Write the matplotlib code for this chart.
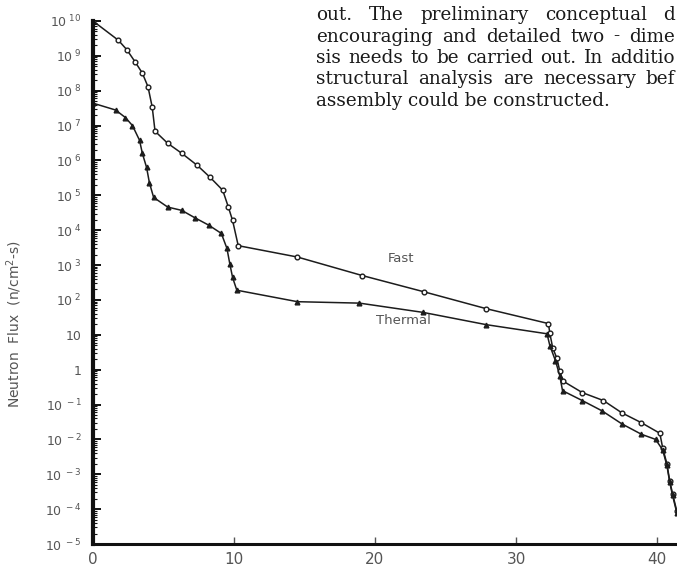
"""Fast and thermal neutron flux profiles (scanned report figure)"""
import matplotlib
matplotlib.use("Agg")
import matplotlib.pyplot as plt
from matplotlib.ticker import LogLocator, FixedLocator, NullFormatter

# distance (cm) and flux (n/cm^2-s)
fast_x = [0, 1.8, 2.4, 3.0, 3.5, 3.9, 4.2, 4.4, 5.3, 6.3, 7.4, 8.3, 9.2, 9.6, 9.9, 10.3,
          14.5, 19.1, 23.5, 27.9, 32.3, 32.4, 32.6, 32.9, 33.1, 33.3,
          34.7, 36.2, 37.5, 38.9, 40.2, 40.4, 40.7, 40.9, 41.1, 41.4]
fast_flux = [1.0e10, 2.8e9, 1.5e9, 6.6e8, 3.2e8, 1.3e8, 3.4e7, 6.9e6, 3.1e6, 1.6e6, 7.2e5,
             3.3e5, 1.4e5, 4.6e4, 1.9e4, 3.6e3,
             1.7e3, 5.0e2, 1.7e2, 56, 21, 11, 4.3, 2.1, 0.93, 0.48,
             0.22, 0.13, 0.058, 0.030, 0.015, 5.8e-3, 2.0e-3, 6.5e-4, 2.8e-4, 8.9e-5]

thermal_x = [0, 1.6, 2.3, 2.8, 3.3, 3.5, 3.8, 4.0, 4.3, 5.3, 6.3, 7.2, 8.2, 9.1, 9.5, 9.7,
             9.9, 10.2, 14.5, 18.9, 23.4, 27.9, 32.2, 32.4, 32.8, 33.1, 33.3,
             34.7, 36.1, 37.5, 38.9, 39.9, 40.4, 40.7, 40.9, 41.1, 41.4]
thermal_flux = [4.4e7, 2.8e7, 1.7e7, 1.0e7, 3.8e6, 1.6e6, 6.3e5, 2.3e5, 8.7e4, 4.6e4,
                3.7e4, 2.3e4, 1.4e4, 8.1e3, 3.0e3, 1.1e3, 4.4e2, 1.9e2,
                89, 81, 44, 19.5, 10.7, 4.9, 1.8, 0.68, 0.25,
                0.13, 0.066, 0.028, 0.014, 0.010, 5.0e-3, 1.8e-3, 6.0e-4, 2.5e-4, 8.0e-5]

x_ticks = [0, 10, 20, 30, 40]
y_exponents = list(range(-5, 11))

paragraph = ["out. The preliminary conceptual d",
             "encouraging and detailed two - dime",
             "sis needs to be carried out. In additio",
             "structural analysis are necessary bef",
             "assembly could be constructed."]

W, H = 677, 578
fig = plt.figure(figsize=(W / 100, H / 100), dpi=100)
ax = fig.add_axes([93 / W, 1 - 544 / H, (W - 93) / W, (544 - 21) / H])

ink = "#1c1c1c"
ax.plot(fast_x, fast_flux, "-o", color=ink, lw=1.1, ms=3.4, mfc="white", mec=ink, mew=1.0)
ax.plot(thermal_x, thermal_flux, "-^", color=ink, lw=1.1, ms=3.4, mfc=ink, mec=ink)

ax.set_yscale("log")
ax.set_ylim(1e-5, 1e10)
ax.set_xlim(0, (W - 93) / 14.1)

for side in ("top", "right"):
    ax.spines[side].set_visible(False)
ax.spines["left"].set_linewidth(3.0)
ax.spines["bottom"].set_linewidth(2.2)
ax.spines["left"].set_color("#111")
ax.spines["bottom"].set_color("#111")

ax.xaxis.set_major_locator(FixedLocator(x_ticks))
ax.tick_params(axis="x", direction="in", length=5, width=1, colors="#555",
               labelsize=11, pad=6)

ax.yaxis.set_major_locator(FixedLocator([10.0 ** e for e in y_exponents]))
ax.yaxis.set_minor_locator(LogLocator(base=10, subs=range(2, 10), numticks=40))
ax.yaxis.set_minor_formatter(NullFormatter())


def ylab(e):
    if e == 0:
        return "1"
    if e == 1:
        return "10"
    return r"10$^{\ %d}$" % e


ax.set_yticklabels([ylab(e) for e in y_exponents])
ax.tick_params(axis="y", which="major", direction="in", length=6, width=1.4,
               colors="#111", labelsize=9, labelcolor="#555", pad=8)
ax.tick_params(axis="y", which="minor", direction="in", length=3, width=0.8, colors="#111")

ax.set_ylabel(r"Neutron  Flux  (n/cm$^2$-s)", fontsize=10, color="#555")
ax.yaxis.set_label_coords(-0.118, 0.42)

ax.text(20.9, 1.5e3, "Fast", fontsize=9.5, color="#555", va="center")
ax.text(20.1, 26, "Thermal", fontsize=9.5, color="#555", va="center")

# justified block of report text in the top right corner
renderer = fig.canvas.get_renderer()
left_px, right_px = 316, 675
for i, line in enumerate(paragraph):
    y = 1 - (15 + 21.5 * i) / H
    if i == len(paragraph) - 1:
        fig.text(left_px / W, y, line, family="DejaVu Serif", fontsize=13.2,
                 color="#1a1a1a", va="center")
        continue
    words = line.split(" ")
    items = [fig.text(0, y, w, family="DejaVu Serif", fontsize=13.2, color="#1a1a1a",
                      va="center") for w in words]
    widths = [t.get_window_extent(renderer).width for t in items]
    gap = (right_px - left_px - sum(widths)) / (len(words) - 1)
    x = left_px
    for t, w in zip(items, widths):
        t.set_x(x / W)
        x += w + gap

fig.savefig("out.png", dpi=100)
